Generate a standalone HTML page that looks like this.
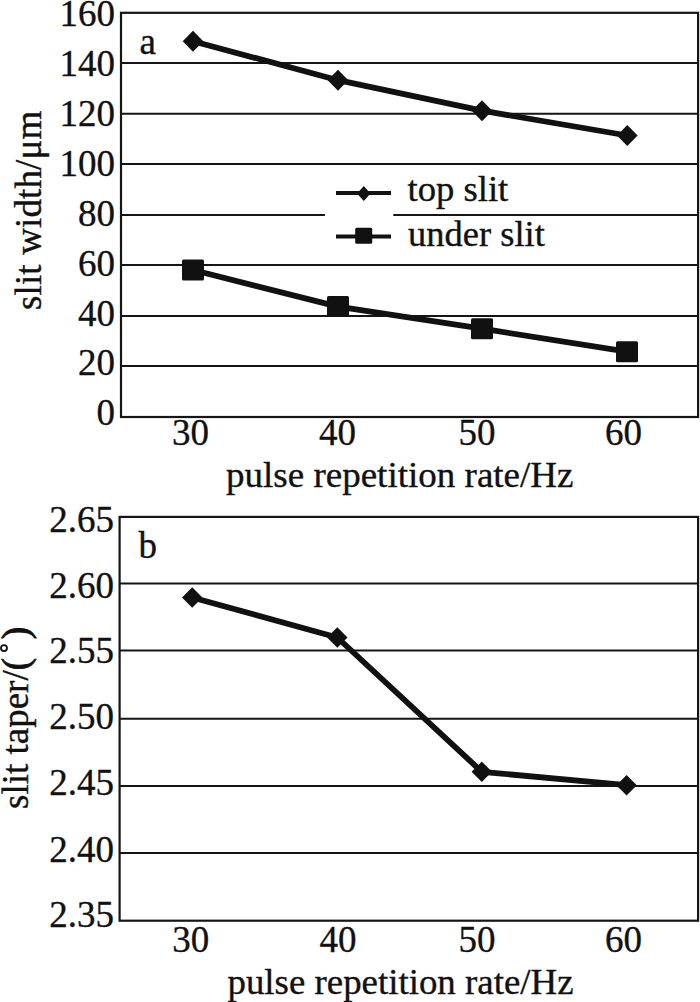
<!DOCTYPE html>
<html><head><meta charset="utf-8"><style>
html,body{margin:0;padding:0;background:#fff;}
svg{display:block;}
text{font-family:"Liberation Serif",serif;font-size:37px;fill:#111;stroke:#111;stroke-width:0.35;}
.g{stroke:#151515;stroke-width:2;}
.f{fill:none;stroke:#151515;stroke-width:2.2;}
.s{fill:none;stroke:#111;stroke-width:5.8;stroke-linejoin:round;}
.l{stroke:#111;stroke-width:4;}
.par{stroke-width:0.9;}
.deg{fill:none;stroke:#111;stroke-width:1.8;}
path,rect:not(.f){fill:#111;}
</style></head><body>
<svg width="700" height="1002" viewBox="0 0 700 1002">
<line x1="121" y1="63" x2="698.1" y2="63" class="g"/>
<line x1="121" y1="113.8" x2="698.1" y2="113.8" class="g"/>
<line x1="121" y1="163.9" x2="698.1" y2="163.9" class="g"/>
<line x1="121" y1="214.9" x2="324.9" y2="214.9" class="g"/>
<line x1="393.3" y1="214.9" x2="698.1" y2="214.9" class="g"/>
<line x1="121" y1="264.9" x2="698.1" y2="264.9" class="g"/>
<line x1="121" y1="315.9" x2="698.1" y2="315.9" class="g"/>
<line x1="121" y1="366.1" x2="698.1" y2="366.1" class="g"/>
<rect x="121" y="12.8" width="577.1" height="404.2" class="f"/>
<polyline class="s" points="193,41.2 338,80.2 482,110.7 627.3,135.5"/>
<polyline class="s" points="193,270 338,306.6 482,328.7 627,351.7"/>
<path d="M182.7 41.2L193.0 30.7L203.3 41.2L193.0 51.7Z"/>
<path d="M327.7 80.2L338.0 69.7L348.3 80.2L338.0 90.7Z"/>
<path d="M471.7 110.7L482.0 100.2L492.3 110.7L482.0 121.2Z"/>
<path d="M617.0 135.5L627.3 125.0L637.6 135.5L627.3 146.0Z"/>
<rect x="182.0" y="259.5" width="22" height="21" rx="1.5"/>
<rect x="327.0" y="296.1" width="22" height="21" rx="1.5"/>
<rect x="471.0" y="318.2" width="22" height="21" rx="1.5"/>
<rect x="616.0" y="341.2" width="22" height="21" rx="1.5"/>
<line x1="336" y1="193" x2="391" y2="193" class="l"/>
<path d="M357.1 193.5L363.8 186.0L370.5 193.5L363.8 201.0Z"/>
<line x1="336" y1="236.5" x2="391" y2="236.5" class="l"/>
<rect x="355.2" y="227.7" width="17" height="16" rx="1.5"/>
<text x="407.5" y="200.9" style="font-size:35.5px" textLength="100.8" lengthAdjust="spacingAndGlyphs">top slit</text>
<text x="408.0" y="246.3" style="font-size:35.5px" textLength="136.8" lengthAdjust="spacingAndGlyphs">under slit</text>
<text x="139.5" y="53.5">a</text>
<text x="115" y="25.5" text-anchor="end">160</text>
<text x="115" y="75.5" text-anchor="end">140</text>
<text x="115" y="125.5" text-anchor="end">120</text>
<text x="115" y="175.7" text-anchor="end">100</text>
<text x="115" y="225.5" text-anchor="end">80</text>
<text x="115" y="275.5" text-anchor="end">60</text>
<text x="115" y="325.6" text-anchor="end">40</text>
<text x="115" y="375.4" text-anchor="end">20</text>
<text x="115" y="425.1" text-anchor="end">0</text>
<text x="190.6" y="444.8" text-anchor="middle">30</text>
<text x="337.4" y="444.8" text-anchor="middle">40</text>
<text x="476.9" y="444.8" text-anchor="middle">50</text>
<text x="623.5" y="444.8" text-anchor="middle">60</text>
<text x="226.0" y="486.8" style="font-size:35.5px" textLength="347.5" lengthAdjust="spacingAndGlyphs">pulse repetition rate/Hz</text>
<text transform="translate(41,310) rotate(-90)" letter-spacing="0.13">slit width/μm</text>
<line x1="119.6" y1="583.6" x2="698.1" y2="583.6" class="g"/>
<line x1="119.6" y1="650.5" x2="698.1" y2="650.5" class="g"/>
<line x1="119.6" y1="718.7" x2="698.1" y2="718.7" class="g"/>
<line x1="119.6" y1="785.9" x2="698.1" y2="785.9" class="g"/>
<line x1="119.6" y1="853" x2="698.1" y2="853" class="g"/>
<rect x="119.6" y="516.9" width="578.5" height="403.80000000000007" class="f"/>
<polyline class="s" points="192.2,597.5 337.3,637.5 481.8,771.8 626.6,785.2"/>
<path d="M182.0 597.5L192.2 587.3L202.4 597.5L192.2 607.7Z"/>
<path d="M327.1 637.5L337.3 627.3L347.5 637.5L337.3 647.7Z"/>
<path d="M471.6 771.8L481.8 761.6L492.0 771.8L481.8 782.0Z"/>
<path d="M616.4 785.2L626.6 775.0L636.8 785.2L626.6 795.4Z"/>
<text x="138.5" y="558">b</text>
<text x="114" y="531.7" text-anchor="end">2.65</text>
<text x="114" y="598.4" text-anchor="end">2.60</text>
<text x="114" y="662.7" text-anchor="end">2.55</text>
<text x="114" y="729.3" text-anchor="end">2.50</text>
<text x="114" y="795.3" text-anchor="end">2.45</text>
<text x="114" y="861.7" text-anchor="end">2.40</text>
<text x="114" y="926.5" text-anchor="end">2.35</text>
<text x="190.7" y="952" text-anchor="middle">30</text>
<text x="337.9" y="952" text-anchor="middle">40</text>
<text x="476.9" y="952" text-anchor="middle">50</text>
<text x="623.5" y="952" text-anchor="middle">60</text>
<text x="227.5" y="993.7" style="font-size:35.5px" textLength="346.0" lengthAdjust="spacingAndGlyphs">pulse repetition rate/Hz</text>
<g transform="translate(28,809) rotate(-90)"><text x="0" y="0">slit taper/</text><text x="138.8" y="0" class="par">(</text><circle cx="160.9" cy="-24" r="3" class="deg"/><text x="169.8" y="0" class="par">)</text></g>
</svg>
</body></html>
